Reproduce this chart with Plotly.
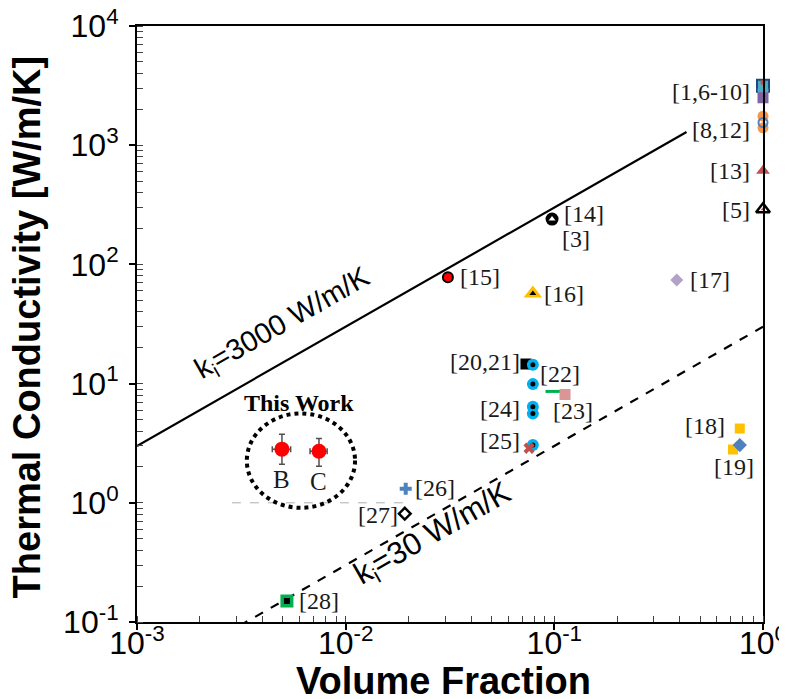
import math
import plotly.graph_objects as go

# ---------------- axis ticks ----------------
x_tickvals = [1e-3, 1e-2, 1e-1, 1.0]
x_ticktext = ["10<sup>-3</sup>", "10<sup>-2</sup>", "10<sup>-1</sup>", "10<sup>0</sup>"]
y_tickvals = [1e-1, 1.0, 10.0, 100.0, 1000.0, 10000.0]
y_ticktext = ["10<sup>-1</sup>", "10<sup>0</sup>", "10<sup>1</sup>", "10<sup>2</sup>",
              "10<sup>3</sup>", "10<sup>4</sup>"]

# ---------------- reference lines ----------------
k3000_x = [0.001, 0.43]
k3000_y = [3.0, 1290.0]
k30_x = [0.0031, 1.0]
k30_y = [0.093, 30.0]
guide_x = [0.00285, 0.0203]
guide_y = [1.0, 1.0]

# ---------------- this work ----------------
work_labels = ["B", "C"]
work_x = [0.00495, 0.00745]
work_y = [2.82, 2.71]
work_err_plus = [0.94, 0.76]
work_err_minus = [0.71, 0.68]
work_xerr = [0.0005, 0.0007]

# ---------------- literature points ----------------
r1_x = [1.0, 1.0, 1.0, 1.0]
r1_y = [3150.0, 2900.0, 2500.0, 3350.0]
r8_x = [1.0, 1.0, 1.0]
r8_y = [1750.0, 1550.0, 1400.0]
r13_x = [1.0]
r13_y = [610.0]
r5_x = [1.0]
r5_y = [290.0]
r17_x = [0.386]
r17_y = [74.0]
r14_x = [0.0975]
r14_y = [240.0]
r15_x = [0.0309]
r15_y = [78.0]
r16_x = [0.0789]
r16_y = [57.0]
r20_x = [0.0731]
r20_y = [14.6]
cyan_x = [0.0789, 0.0789, 0.0789, 0.0789, 0.0789]
cyan_y = [14.4, 9.9, 6.4, 5.6, 3.05]
r22_x = [0.0995]
r22_y = [8.6]
r23_x = [0.1125]
r23_y = [8.1]
r25_x = [0.0757]
r25_y = [2.87]
r18_x = [0.774, 0.718]
r18_y = [4.2, 2.8]
r19_x = [0.774]
r19_y = [3.05]
r26_x = [0.0194]
r26_y = [1.31]
r27_x = [0.0192]
r27_y = [0.81]
r28_x = [0.00523]
r28_y = [0.15]

# ---------------- labels ----------------
ref_label_text = ["[1,6-10]", "[8,12]", "[13]", "[5]", "[17]", "[14]", "[3]", "[15]", "[16]",
                  "[20,21]", "[22]", "[23]", "[24]", "[25]", "[18]", "[19]", "[26]", "[27]", "[28]"]
ref_label_x = [0.885, 0.885, 0.885, 0.885, 0.436, 0.1086, 0.1268, 0.0345, 0.0873,
               0.070, 0.0834, 0.1228, 0.070, 0.070, 0.671, 0.726, 0.0210, 0.0182, 0.00585]
ref_label_y = [2820.0, 1334.0, 605.0, 287.0, 74.0, 265.0, 163.0, 78.0, 56.0,
               15.2, 12.1, 5.85, 6.15, 3.29, 4.39, 2.0, 1.33, 0.79, 0.15]
ref_label_anchor = ["right", "right", "right", "right", "left", "left", "center", "left", "left",
                    "right", "left", "center", "right", "right", "right", "center", "left", "right", "left"]

fig = go.Figure()

def add_line(x, y, dash, width, color):
    fig.add_trace(go.Scatter(x=x, y=y, mode="lines", showlegend=False, hoverinfo="skip",
                             line=dict(color=color, width=width, dash=dash)))

add_line(k3000_x, k3000_y, "solid", 2.2, "black")
add_line(k30_x, k30_y, "dash", 2.2, "black")
add_line(guide_x, guide_y, "dash", 1, "#b0b0b0")

def add_pts(x, y, symbol, size, color, lcolor=None, lwidth=0):
    fig.add_trace(go.Scatter(x=x, y=y, mode="markers", showlegend=False, cliponaxis=False,
                             marker=dict(symbol=symbol, size=size, color=color,
                                         line=dict(color=lcolor or color, width=lwidth))))

# [1,6-10]
add_pts([r1_x[0]], [r1_y[0]], "square", 12, "#4bacc6", "#1f497d", 2)
add_pts([r1_x[1]], [r1_y[1]], "circle", 11, "#4bacc6", "#4bacc6", 0)
add_pts([r1_x[2]], [r1_y[2]], "square", 11, "#8064a2", "#8064a2", 0)
add_pts([r1_x[3]], [r1_y[3]], "circle", 5, "#c0504d", "#c0504d", 0)
# [8,12]
add_pts([r8_x[0], r8_x[2]], [r8_y[0], r8_y[2]], "circle", 11, "#f79646")
add_pts([r8_x[1]], [r8_y[1]], "circle-open", 9, "#4f81bd", "#4f81bd", 2)
# [13]
add_pts(r13_x, r13_y, "triangle-up", 12, "#c0504d")
# [5]
add_pts(r5_x, r5_y, "triangle-up-open", 12, "black", "black", 2.5)
add_pts(r5_x, r5_y, "triangle-up", 4, "#c0504d")
# [17]
add_pts(r17_x, r17_y, "diamond", 10, "#b3a2c7")
# [14]/[3]
add_pts(r14_x, r14_y, "circle", 13, "black")
add_pts(r14_x, r14_y, "triangle-up", 6, "white")
# [15]
add_pts(r15_x, r15_y, "circle", 10, "#ff0000", "black", 2)
# [16]
add_pts(r16_x, r16_y, "triangle-up", 16, "#ffc000")
add_pts(r16_x, r16_y, "triangle-up", 6, "black")
# [20,21]
add_pts(r20_x, r20_y, "square", 11, "black")
# cyan points
add_pts(cyan_x, cyan_y, "circle", 12, "#00b0f0")
add_pts(cyan_x, cyan_y, "circle", 5, "black")
# [22]
add_pts(r22_x, r22_y, "line-ew", 12, "#00b050", "#00b050", 3)
# [23]
add_pts(r23_x, r23_y, "square", 11, "#d99694")
# [25]
add_pts(r25_x, r25_y, "x", 10, "#c0504d")
# [18]
add_pts(r18_x, r18_y, "square", 10, "#ffc000")
# [19]
add_pts(r19_x, r19_y, "diamond", 11, "#4f81bd")
# [26]
add_pts(r26_x, r26_y, "cross", 10, "#4f81bd")
# [27]
add_pts(r27_x, r27_y, "diamond-open", 9, "black", "black", 2.5)
# [28]
add_pts(r28_x, r28_y, "square", 13, "#00b050")
add_pts(r28_x, r28_y, "square", 6, "black")

# This work
fig.add_trace(go.Scatter(
    x=work_x, y=work_y, mode="markers", showlegend=False, cliponaxis=False,
    marker=dict(symbol="circle", size=15, color="#ff0000"),
    error_y=dict(type="data", array=work_err_plus, arrayminus=work_err_minus,
                 color="#505050", thickness=1.5, width=3),
    error_x=dict(type="data", array=work_xerr, color="#505050", thickness=1.5, width=3),
))

# dotted circle around this work
fig.add_shape(type="circle", xref="x", yref="y", x0=0.00336, x1=0.01109, y0=0.908, y1=5.62,
              line=dict(color="black", width=4, dash="dot"))

serif = "Liberation Serif, Times New Roman, serif"
sans = "Liberation Sans, Arial, sans-serif"

for t, x, y, a in zip(ref_label_text, ref_label_x, ref_label_y, ref_label_anchor):
    fig.add_annotation(x=math.log10(x), y=math.log10(y), text=t, showarrow=False,
                       xanchor=a, yanchor="middle", font=dict(family=serif, size=24, color="#1a1a1a"))

for t, x, y in zip(work_labels, work_x, work_y):
    fig.add_annotation(x=math.log10(x), y=math.log10(y), yshift=-30, text=t, showarrow=False,
                       font=dict(family=serif, size=25, color="#1a1a1a"))

fig.add_annotation(x=math.log10(0.00597), y=math.log10(6.9), text="<b>This Work</b>", showarrow=False,
                   font=dict(family=serif, size=24, color="black"))

fig.add_annotation(x=-2.30, y=1.50, text="k<sub>i</sub>=3000 W/m/K", showarrow=False,
                   textangle=-29.7, font=dict(family=sans, size=29, color="black"))
fig.add_annotation(x=-1.58, y=-0.27, text="k<sub>i</sub>=30 W/m/K", showarrow=False,
                   textangle=-29.7, font=dict(family=sans, size=31, color="black"))

# axis titles placed as annotations (paper coords relative to plot area)
fig.add_annotation(xref="paper", yref="paper", x=0.490, y=-0.099, text="<b>Volume Fraction</b>",
                   showarrow=False, xanchor="center", yanchor="middle",
                   font=dict(family=sans, size=38, color="black"))
fig.add_annotation(xref="paper", yref="paper", x=-0.175, y=0.495,
                   text="<b>Thermal Conductivity [W/m/K]</b>", textangle=-90,
                   showarrow=False, xanchor="center", yanchor="middle",
                   font=dict(family=sans, size=38, color="black"))

fig.update_layout(
    width=787, height=699,
    margin=dict(l=129, r=32, t=18, b=85),
    paper_bgcolor="white", plot_bgcolor="white",
    xaxis=dict(type="log", range=[-3, 0], tickvals=x_tickvals, ticktext=x_ticktext,
               automargin=False, ticklabeloverflow="allow", ticklabelstandoff=-14,
               showgrid=False, zeroline=False, showline=True, linecolor="black", linewidth=2,
               mirror=True, ticks="outside", ticklen=6, tickwidth=1.5, tickcolor="black",
               tickfont=dict(family=sans, size=32, color="black"),
               minor=dict(ticks="inside", ticklen=6, tickwidth=1, tickcolor="#444", dtick="D1", showgrid=False)),
    yaxis=dict(type="log", range=[-1, 4], tickvals=y_tickvals, ticktext=y_ticktext,
               automargin=False, ticklabeloverflow="allow", ticklabelstandoff=4,
               showgrid=False, zeroline=False, showline=True, linecolor="black", linewidth=2,
               mirror=True, ticks="outside", ticklen=6, tickwidth=1.5, tickcolor="black",
               tickfont=dict(family=sans, size=32, color="black"),
               minor=dict(ticks="inside", ticklen=6, tickwidth=1, tickcolor="#444", dtick="D1", showgrid=False)),
)

fig.write_html("out.html")
